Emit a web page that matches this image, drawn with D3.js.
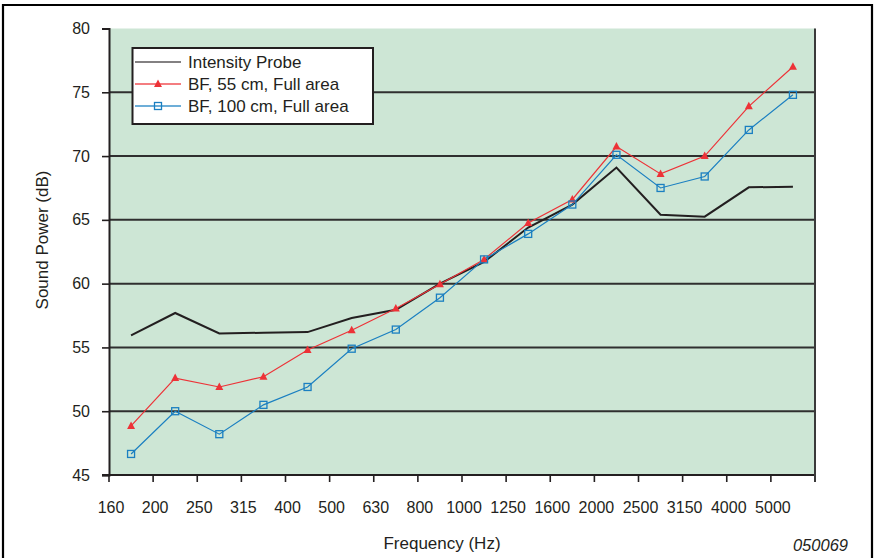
<!DOCTYPE html>
<html>
<head>
<meta charset="utf-8">
<script src="https://cdn.jsdelivr.net/npm/d3@7"></script>
<style>
  html, body { margin: 0; padding: 0; background: #fff; }
  svg { display: block; font-family: "Liberation Sans", Arial, sans-serif; }
</style>
</head>
<body>
<svg id="chart" width="875" height="558"></svg>
<script>
// One-third octave band centre frequencies (Hz)
const bands = ["160", "200", "250", "315", "400", "500", "630", "800", "1000",
               "1250", "1600", "2000", "2500", "3150", "4000", "5000"];

// Sound power per band (dB)
const intensityProbe = [55.95, 57.7, 56.1, 56.15, 56.2, 57.3, 57.95, 60.0, 61.7,
                        64.4, 66.2, 69.1, 65.4, 65.25, 67.55, 67.6];
const bf55 = [48.85, 52.6, 51.9, 52.7, 54.8, 56.35, 58.05, 59.95, 61.9,
              64.75, 66.6, 70.75, 68.6, 70.0, 73.9, 77.0];
const bf100 = [46.65, 50.0, 48.2, 50.5, 51.9, 54.9, 56.4, 58.9, 61.9,
               63.9, 66.2, 70.1, 67.5, 68.4, 72.05, 74.8];

const yTicks = [45, 50, 55, 60, 65, 70, 75, 80];

const series = [
  { name: "Intensity Probe", values: intensityProbe, color: "#231f20", width: 2, marker: null },
  { name: "BF, 55 cm, Full area", values: bf55, color: "#ed3237", width: 1.2, marker: "triangle" },
  { name: "BF, 100 cm, Full area", values: bf100, color: "#1a7fc1", width: 1.2, marker: "square" }
];

const svg = d3.select("#chart");
const plotL = 109, plotR = 815, plotT = 28.5, plotB = 475;

const x = d3.scaleBand().domain(bands).range([plotL, plotR]).padding(0);
const y = d3.scaleLinear().domain([45, 80]).range([plotB, plotT]);

// outer frame (open at the bottom)
svg.append("path")
  .attr("d", `M3,558 V5 H872 V558`)
  .attr("fill", "none").attr("stroke", "#000").attr("stroke-width", 2.2);

// plot background
svg.append("rect")
  .attr("x", plotL).attr("y", plotT)
  .attr("width", plotR - plotL).attr("height", plotB - plotT)
  .attr("fill", "#cde6d5");

// horizontal gridlines
svg.append("g").selectAll("line")
  .data(yTicks.filter(d => d > 45 && d < 80))
  .join("line")
  .attr("x1", plotL).attr("x2", plotR)
  .attr("y1", d => y(d)).attr("y2", d => y(d))
  .attr("stroke", "#2f2f2f").attr("stroke-width", 2);

// y axis
const yAxis = svg.append("g")
  .attr("transform", `translate(${plotL},0)`)
  .call(d3.axisLeft(y).tickValues(yTicks).tickSize(7).tickPadding(12));
yAxis.select(".domain").attr("stroke", "#231f20").attr("stroke-width", 2);
yAxis.selectAll(".tick line").attr("stroke", "#231f20").attr("stroke-width", 1.6);
yAxis.selectAll("text").attr("font-size", 16).attr("fill", "#231f20")
  .attr("font-family", "Liberation Sans, Arial, sans-serif");

// x axis: band labels sit at each band's lower edge
const xAxisG = svg.append("g").attr("transform", `translate(0,${plotB})`);
xAxisG.append("line")
  .attr("x1", plotL - 7).attr("x2", plotR)
  .attr("stroke", "#231f20").attr("stroke-width", 2);
const edges = bands.map(b => x(b)).concat([plotR]);
xAxisG.selectAll("line.tick")
  .data(edges).join("line").attr("class", "tick")
  .attr("x1", d => d).attr("x2", d => d)
  .attr("y1", 0).attr("y2", 7)
  .attr("stroke", "#231f20").attr("stroke-width", 1.6);
xAxisG.selectAll("text")
  .data(bands).join("text")
  .attr("x", d => x(d) + 2).attr("y", 38)
  .attr("text-anchor", "middle")
  .attr("font-size", 16).attr("fill", "#231f20")
  .text(d => d);

// right border of plot
svg.append("line")
  .attr("x1", plotR).attr("x2", plotR).attr("y1", plotT).attr("y2", plotB + 7)
  .attr("stroke", "#3a3a3a").attr("stroke-width", 2);

// series lines
const line = d3.line()
  .x((d, i) => x(bands[i]) + x.bandwidth() / 2)
  .y(d => y(d));

series.forEach(s => {
  svg.append("path")
    .datum(s.values)
    .attr("d", line)
    .attr("fill", "none")
    .attr("stroke", s.color)
    .attr("stroke-width", s.width)
    .attr("stroke-linejoin", "miter");
});

// markers
function drawMarker(g, type, cx, cy, color) {
  if (type === "triangle") {
    g.append("path")
      .attr("d", `M${cx},${cy - 4.5} L${cx + 4},${cy + 3} L${cx - 4},${cy + 3} Z`)
      .attr("fill", color);
  } else if (type === "square") {
    g.append("rect")
      .attr("x", cx - 3.5).attr("y", cy - 3.5)
      .attr("width", 7).attr("height", 7)
      .attr("fill", "none").attr("stroke", color).attr("stroke-width", 1.3);
  }
}

series.filter(s => s.marker).forEach(s => {
  const g = svg.append("g");
  s.values.forEach((v, i) => {
    drawMarker(g, s.marker, x(bands[i]) + x.bandwidth() / 2, y(v), s.color);
  });
});

// legend
const legend = svg.append("g");
legend.append("rect")
  .attr("x", 132.5).attr("y", 48).attr("width", 240.5).attr("height", 76)
  .attr("fill", "#fff").attr("stroke", "#231f20").attr("stroke-width", 2);
series.forEach((s, i) => {
  const ly = 62 + i * 22;
  legend.append("line")
    .attr("x1", 135).attr("x2", 181).attr("y1", ly).attr("y2", ly)
    .attr("stroke", s.color).attr("stroke-width", 1.5)
    .attr("stroke-opacity", s.marker ? 0.85 : 0.75);
  if (s.marker) drawMarker(legend, s.marker, 158, ly, s.color);
  legend.append("text")
    .attr("x", 188).attr("y", ly + 6)
    .attr("font-size", 17).attr("fill", "#231f20")
    .text(s.name);
});

// axis titles
svg.append("text")
  .attr("transform", "translate(48,240) rotate(-90)")
  .attr("text-anchor", "middle")
  .attr("font-size", 17).attr("fill", "#231f20")
  .text("Sound Power (dB)");

svg.append("text")
  .attr("x", 442).attr("y", 549)
  .attr("text-anchor", "middle")
  .attr("font-size", 17).attr("fill", "#231f20")
  .text("Frequency (Hz)");

svg.append("text")
  .attr("x", 848).attr("y", 551)
  .attr("text-anchor", "end")
  .attr("font-size", 16.5).attr("font-style", "italic").attr("fill", "#231f20")
  .text("050069");
</script>
</body>
</html>
